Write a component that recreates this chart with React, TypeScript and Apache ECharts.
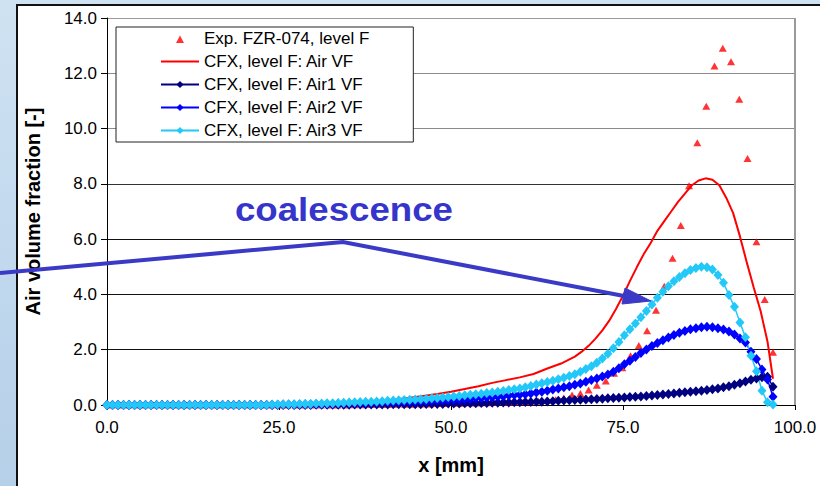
import React, { useEffect, useRef } from 'react';
import * as echarts from 'echarts';

const FONT = '"Liberation Sans", Arial, Helvetica, sans-serif';

// Common x grid (mm) for the CFX marker series
const cfxX = [
  0, 0.8, 1.6, 2.4, 3.2, 4, 4.8, 5.6, 6.4, 7.2,
  8, 8.8, 9.6, 10.4, 11.2, 12, 12.8, 13.6, 14.4, 15.2,
  16, 16.8, 17.6, 18.4, 19.2, 20, 20.8, 21.6, 22.4, 23.2,
  24, 24.8, 25.6, 26.4, 27.2, 28, 28.8, 29.6, 30.4, 31.2,
  32, 32.8, 33.6, 34.4, 35.2, 36, 36.8, 37.6, 38.4, 39.2,
  40, 40.8, 41.6, 42.4, 43.2, 44, 44.8, 45.6, 46.4, 47.2,
  48, 48.8, 49.6, 50.4, 51.2, 52, 52.8, 53.6, 54.4, 55.2,
  56, 56.8, 57.6, 58.4, 59.2, 60, 60.8, 61.6, 62.4, 63.2,
  64, 64.8, 65.6, 66.4, 67.2, 68, 68.8, 69.6, 70.4, 71.2,
  72, 72.8, 73.6, 74.4, 75.2, 76, 76.8, 77.6, 78.4, 79.2,
  80, 80.8, 81.6, 82.4, 83.2, 84, 84.8, 85.6, 86.4, 87.2,
  88, 88.8, 89.6, 90.4, 91.2, 92, 92.8, 93.6, 94.4, 95.2,
  96, 96.8,
];

const air1VF = [
  0, 0, 0, 0, 0, 0, 0, 0, 0, 0,
  0, 0, 0, 0, 0, 0, 0, 0, 0, 0,
  0, 0, 0, 0, 0, 0, 0, 0, 0, 0,
  0, 0, 0, 0, 0, 0, 0, 0, 0.01, 0.01,
  0.01, 0.01, 0.01, 0.01, 0.01, 0.02, 0.02, 0.02, 0.02, 0.02,
  0.02, 0.02, 0.03, 0.03, 0.03, 0.03, 0.03, 0.03, 0.04, 0.04,
  0.04, 0.04, 0.05, 0.05, 0.05, 0.06, 0.06, 0.06, 0.07, 0.07,
  0.08, 0.08, 0.09, 0.09, 0.1, 0.1, 0.11, 0.11, 0.12, 0.12,
  0.13, 0.14, 0.15, 0.16, 0.17, 0.18, 0.19, 0.2, 0.21, 0.22,
  0.23, 0.24, 0.25, 0.26, 0.27, 0.29, 0.3, 0.31, 0.33, 0.34,
  0.36, 0.38, 0.4, 0.42, 0.44, 0.46, 0.48, 0.5, 0.52, 0.54,
  0.57, 0.6, 0.64, 0.68, 0.73, 0.79, 0.85, 0.91, 0.96, 1.0,
  1.02, 0.66,
];

const air2VF = [
  0, 0, 0, 0, 0, 0, 0, 0, 0, 0,
  0, 0, 0, 0, 0, 0, 0, 0, 0, 0,
  0, 0, 0, 0, 0, 0, 0, 0, 0, 0,
  0.01, 0.01, 0.02, 0.02, 0.02, 0.02, 0.03, 0.03, 0.03, 0.03,
  0.04, 0.04, 0.05, 0.05, 0.06, 0.06, 0.07, 0.07, 0.08, 0.08,
  0.09, 0.1, 0.1, 0.11, 0.12, 0.12, 0.13, 0.14, 0.14, 0.15,
  0.16, 0.17, 0.18, 0.19, 0.2, 0.21, 0.22, 0.24, 0.25, 0.27,
  0.28, 0.3, 0.32, 0.34, 0.36, 0.37, 0.39, 0.42, 0.45, 0.48,
  0.52, 0.56, 0.6, 0.64, 0.68, 0.73, 0.78, 0.84, 0.9, 0.96,
  1.03, 1.1, 1.2, 1.33, 1.47, 1.6, 1.74, 1.88, 2.01, 2.13,
  2.24, 2.34, 2.44, 2.53, 2.61, 2.68, 2.74, 2.78, 2.81, 2.83,
  2.81, 2.78, 2.73, 2.66, 2.55, 2.41, 2.26, 1.93, 1.66, 1.28,
  0.92, 0.3,
];

const air3VF = [
  0, 0, 0, 0, 0, 0, 0, 0, 0, 0,
  0, 0, 0, 0, 0, 0, 0, 0, 0, 0,
  0, 0, 0, 0, 0, 0, 0, 0, 0, 0,
  0.02, 0.02, 0.03, 0.03, 0.03, 0.04, 0.04, 0.04, 0.05, 0.05,
  0.06, 0.06, 0.07, 0.08, 0.09, 0.1, 0.11, 0.12, 0.12, 0.13,
  0.14, 0.15, 0.16, 0.17, 0.18, 0.19, 0.2, 0.21, 0.22, 0.24,
  0.25, 0.27, 0.29, 0.31, 0.33, 0.35, 0.37, 0.39, 0.41, 0.43,
  0.45, 0.48, 0.51, 0.54, 0.57, 0.6, 0.64, 0.69, 0.74, 0.79,
  0.83, 0.88, 0.93, 0.99, 1.05, 1.11, 1.2, 1.3, 1.4, 1.53,
  1.68, 1.85, 2.05, 2.28, 2.52, 2.74, 2.95, 3.17, 3.4, 3.64,
  3.88, 4.1, 4.3, 4.48, 4.63, 4.77, 4.88, 4.96, 5.0, 4.98,
  4.9, 4.7, 4.42, 3.98, 3.55, 2.98, 2.45, 1.78, 1.22, 0.52,
  0.1, 0.02,
];

// Total air volume fraction (red line)
const airX = [
  0, 10, 20, 25, 30, 35, 38, 40, 42, 44, 46, 48, 50, 52, 54, 56, 58, 60, 62, 64, 66, 68,
  69, 70, 71, 72, 73, 74, 75, 76, 77, 78, 79, 80, 81, 82, 83, 84, 85, 86, 87, 88, 89,
  90, 91, 92, 93, 94, 95, 96, 96.8,
];
const airVF = [
  0, 0, 0, 0.01, 0.02, 0.05, 0.1, 0.13, 0.2, 0.26, 0.33, 0.4, 0.48, 0.58, 0.68, 0.8, 0.9, 1.0, 1.12, 1.32, 1.5, 1.75,
  1.93, 2.14, 2.4, 2.7, 3.05, 3.48, 3.95, 4.48, 4.98, 5.45, 5.85, 6.3, 6.65, 7.0, 7.35, 7.65, 7.95, 8.12, 8.2, 8.15, 7.95,
  7.5, 6.95, 6.1, 5.15, 4.25, 3.4, 2.3, 0.95,
];

// Experiment FZR-074, level F
const expX = [
  0.7, 1.9, 3.1, 4.3, 5.5, 6.8, 8.0, 9.2, 10.4, 11.6,
  12.8, 14.1, 15.3, 16.5, 17.7, 18.9, 20.1, 21.4, 22.6, 23.8,
  25.0, 26.2, 27.4, 28.7, 29.9, 31.1, 32.3, 33.5, 34.7, 36.0,
  37.2, 38.4, 39.6, 40.8, 42.0, 43.3, 44.5, 45.7, 46.9, 48.1,
  49.3, 50.6, 51.8, 53.0, 54.2, 55.4, 56.6, 57.9, 59.1, 60.3,
  61.5, 62.7, 63.9, 65.2, 66.4, 67.6, 68.8, 70.0, 71.2, 72.5,
  73.7, 74.9, 76.1, 77.3, 78.5, 79.8, 81.0, 82.2, 83.4, 84.6,
  85.8, 87.1, 88.3, 89.5, 90.7, 91.9, 93.1, 94.4, 95.6, 96.8,
];
const expVF = [
  0, 0, 0, 0, 0, 0, 0, 0, 0, 0,
  0, 0, 0, 0, 0, 0, 0, 0, 0, 0,
  0, 0, 0, 0, 0, 0, 0, 0, 0, 0.01,
  0.01, 0.02, 0.02, 0.02, 0.03, 0.03, 0.03, 0.04, 0.04, 0.05,
  0.05, 0.06, 0.06, 0.07, 0.07, 0.08, 0.09, 0.09, 0.1, 0.11,
  0.12, 0.14, 0.16, 0.19, 0.25, 0.36, 0.42, 0.54, 0.71, 0.87,
  1.15, 1.35, 1.78, 2.15, 2.69, 3.43, 4.3, 5.31, 6.49, 7.93,
  9.49, 10.81, 12.26, 12.91, 12.42, 11.06, 8.92, 5.91, 3.82, 1.91,
];

const seriesNames = [
  'Exp. FZR-074, level F',
  'CFX, level F: Air VF',
  'CFX, level F: Air1 VF',
  'CFX, level F: Air2 VF',
  'CFX, level F: Air3 VF',
];
const xTicks = [0, 25, 50, 75, 100];
const annotation = 'coalescence';

const pairs = (xa: number[], ya: number[]) => xa.map((x, i) => [x, ya[i]]);

// Legend icons: invisible corner points keep the icon box at 38x9
const triangleIcon = 'path://M0,0L0.01,0M38,9L38.01,9M15,9L19,1.5L23,9Z';
const lineIcon = 'path://M0,0L0.01,0M38,9L38.01,9M0,3.5L38,3.5L38,5.5L0,5.5Z';

export default function App() {
  const ref = useRef<HTMLDivElement>(null);

  useEffect(() => {
    if (!ref.current) return;
    const chart = echarts.init(ref.current, null, { renderer: 'svg' });
    const clear = 'rgba(0,0,0,0)';
    const diamondSeries = (name: string, ys: number[], color: string) => ({
      name,
      type: 'line',
      data: pairs(cfxX, ys),
      symbol: 'diamond',
      symbolSize: [9, 10],
      showAllSymbol: true,
      itemStyle: { color },
      lineStyle: { color, width: 1.5 },
      emphasis: { disabled: true },
    });
    const option: any = {
      animation: false,
      backgroundColor: 'transparent',
      textStyle: { fontFamily: FONT },
      grid: { left: 107, right: 25, top: 18, bottom: 81, containLabel: false },
      legend: {
        orient: 'vertical',
        left: 116,
        top: 27,
        padding: [3, 44, 3, 44],
        itemWidth: 38,
        itemHeight: 9,
        itemGap: 6,
        symbolKeepAspect: true,
        backgroundColor: '#fff',
        borderColor: '#222',
        borderWidth: 1,
        selectedMode: false,
        textStyle: { fontFamily: FONT, fontSize: 17, color: '#000' },
        data: [
          { name: seriesNames[0], icon: triangleIcon },
          { name: seriesNames[1], icon: lineIcon },
          seriesNames[2],
          seriesNames[3],
          seriesNames[4],
        ],
      },
      xAxis: {
        type: 'value',
        min: xTicks[0],
        max: xTicks[xTicks.length - 1],
        interval: 25,
        name: 'x [mm]',
        nameLocation: 'middle',
        nameGap: 50,
        nameTextStyle: { fontFamily: FONT, fontSize: 20, fontWeight: 'bold', color: '#000' },
        axisLine: { show: true, lineStyle: { color: '#000', width: 1 } },
        axisTick: { show: true, inside: false, length: 5, lineStyle: { color: '#000' } },
        axisLabel: {
          fontFamily: FONT,
          fontSize: 17,
          color: '#000',
          margin: 14,
          formatter: (v: number) => v.toFixed(1),
        },
        splitLine: {
          show: true,
          lineStyle: { color: [clear, clear, clear, clear, '#9a9a9a'], width: 2 },
        },
      },
      yAxis: {
        type: 'value',
        min: 0,
        max: 14,
        interval: 2,
        name: 'Air volume fraction [-]',
        nameLocation: 'middle',
        nameGap: 64,
        nameTextStyle: { fontFamily: FONT, fontSize: 20, fontWeight: 'bold', color: '#000' },
        axisLine: { show: true, lineStyle: { color: '#000', width: 1 } },
        axisTick: { show: true, inside: false, length: 6, lineStyle: { color: '#000' } },
        axisLabel: {
          fontFamily: FONT,
          fontSize: 17,
          color: '#000',
          margin: 10,
          formatter: (v: number) => v.toFixed(1),
        },
        splitLine: {
          show: true,
          lineStyle: {
            color: ['#000', '#111', '#111', '#111', '#333', '#8a8a8a', '#8a8a8a', '#9a9a9a'],
            width: 1,
          },
        },
      },
      series: [
        {
          name: seriesNames[0],
          type: 'scatter',
          data: pairs(expX, expVF),
          symbol: 'triangle',
          symbolSize: [8, 7],
          itemStyle: { color: '#ff0000' },
          emphasis: { disabled: true },
        },
        {
          name: seriesNames[1],
          type: 'line',
          data: pairs(airX, airVF),
          symbol: 'none',
          showSymbol: false,
          itemStyle: { color: '#ff0000' },
          lineStyle: { color: '#ff0000', width: 2 },
          emphasis: { disabled: true },
        },
        diamondSeries(seriesNames[2], air1VF, '#000080'),
        diamondSeries(seriesNames[3], air2VF, '#0000ff'),
        diamondSeries(seriesNames[4], air3VF, '#22c8f8'),
      ],
      graphic: [
        {
          type: 'polyline',
          z: 100,
          shape: { points: [[0, 273], [343, 242], [624, 296]] },
          style: { stroke: '#3a3ac6', lineWidth: 4, fill: null },
        },
        {
          type: 'polygon',
          z: 100,
          shape: { points: [[651, 301], [622, 304], [625, 288]] },
          style: { fill: '#3a3ac6', stroke: '#3a3ac6', lineWidth: 1 },
        },
        {
          type: 'text',
          z: 100,
          x: 235,
          y: 209,
          scaleX: 1.11,
          style: {
            text: annotation,
            fontFamily: FONT,
            fontSize: 33,
            fontWeight: 'bold',
            fill: '#3535cc',
            verticalAlign: 'middle',
            align: 'left',
          },
        },
      ],
    };
    chart.setOption(option);
    return () => chart.dispose();
  }, []);

  return (
    <div
      style={{
        position: 'fixed',
        left: 0,
        top: 0,
        width: 820,
        height: 486,
        overflow: 'hidden',
        background: 'linear-gradient(180deg, #cfe2f2 0%, #c2d9ee 50%, #b6d0e9 100%)',
      }}
    >
      <div
        style={{
          position: 'absolute',
          left: 16,
          top: 4,
          right: 0,
          bottom: 0,
          background: '#ffffff',
          borderLeft: '2px solid #111',
          borderTop: '2px solid #111',
        }}
      />
      <div ref={ref} style={{ position: 'absolute', left: 0, top: 0, width: 820, height: 486 }} />
    </div>
  );
}
